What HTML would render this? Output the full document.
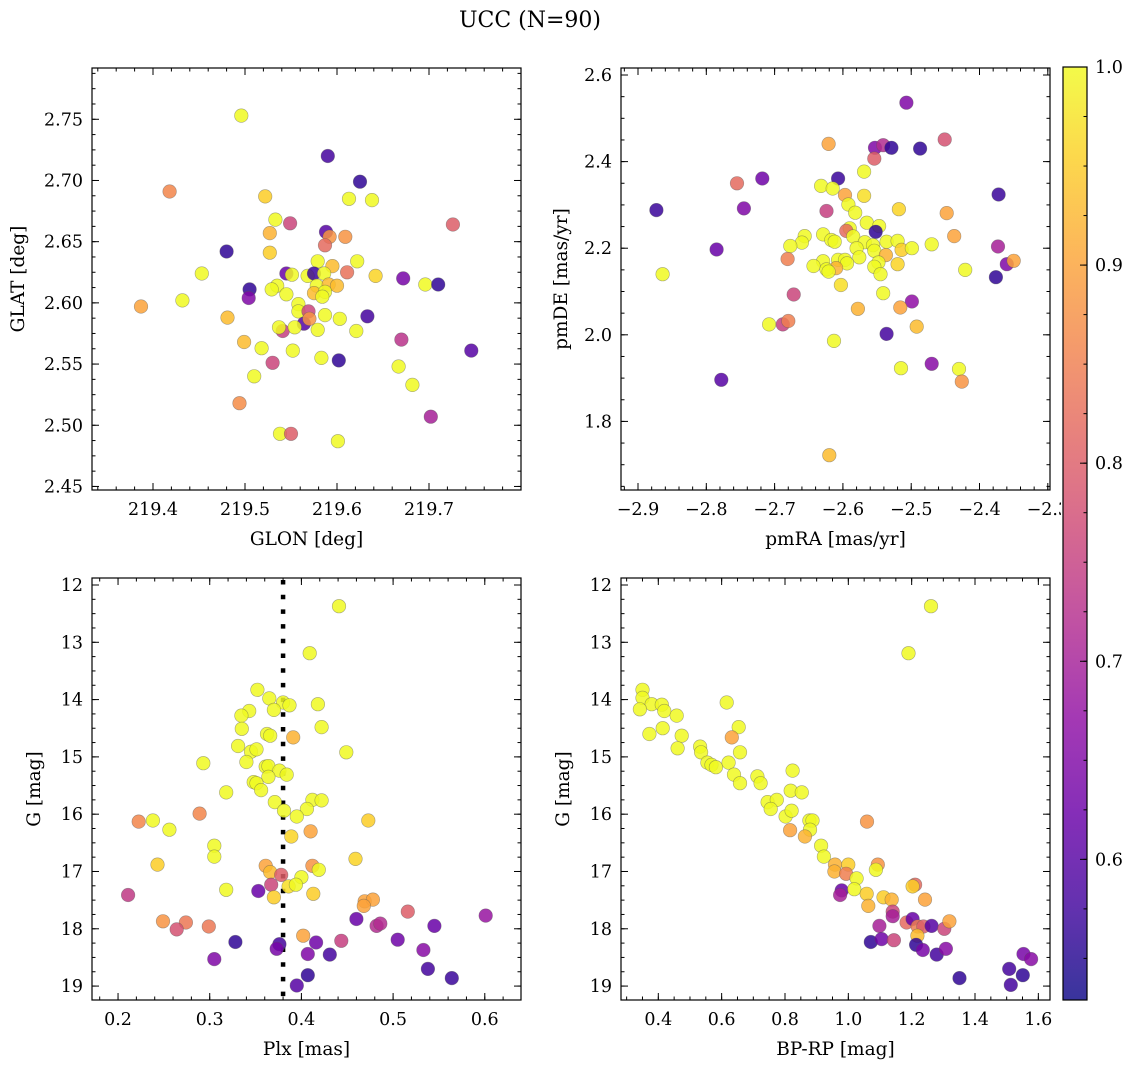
<!DOCTYPE html>
<html><head><meta charset="utf-8"><title>UCC (N=90)</title>
<style>
html,body{margin:0;padding:0;background:#fff;}
svg{display:block;font-family:"DejaVu Serif","Liberation Serif",serif;}
</style></head>
<body>
<svg id="fig" width="1136" height="1067" viewBox="0 0 1136 1067" xmlns="http://www.w3.org/2000/svg">
<text x="530" y="27" font-size="22" text-anchor="middle">UCC (N=90)</text>
</svg>
<script>
// ---- Panel 1: GLON vs GLAT ----
const p1Glon=[219.496,219.590,219.625,219.418,219.522,219.613,219.638,219.533,219.549,219.726,219.527,219.588,219.592,219.609,219.587,219.480,219.527,219.579,219.622,219.595,219.611,219.545,219.551,219.453,219.568,219.575,219.586,219.642,219.672,219.696,219.710,219.535,219.578,219.591,219.600,219.505,219.529,219.545,219.575,219.587,219.584,219.504,219.432,219.387,219.558,219.558,219.569,219.587,219.603,219.633,219.481,219.564,219.570,219.541,219.537,219.554,219.579,219.621,219.670,219.499,219.518,219.552,219.746,219.583,219.602,219.530,219.667,219.510,219.682,219.494,219.702,219.538,219.550,219.601];
const p1Glat=[2.753,2.720,2.699,2.691,2.687,2.685,2.684,2.668,2.665,2.664,2.657,2.658,2.654,2.654,2.647,2.642,2.641,2.634,2.634,2.630,2.625,2.624,2.623,2.624,2.622,2.624,2.624,2.622,2.620,2.615,2.615,2.614,2.614,2.615,2.614,2.611,2.611,2.607,2.608,2.609,2.605,2.604,2.602,2.597,2.599,2.593,2.593,2.590,2.587,2.589,2.588,2.583,2.587,2.577,2.580,2.580,2.578,2.577,2.570,2.568,2.563,2.561,2.561,2.555,2.553,2.551,2.548,2.540,2.533,2.518,2.507,2.493,2.493,2.487];
const p1Prob=[1,0.58,0.56,0.86,0.95,1,1,1,0.76,0.8,0.92,0.6,0.88,0.88,0.82,0.56,0.95,1,1,0.93,0.83,0.62,1,1,1,0.57,1,0.96,0.64,1,0.56,1,1,0.93,0.93,0.56,1,1,0.93,1,1,0.65,1,0.9,1,1,0.76,1,1,0.58,0.93,0.6,0.88,0.75,1,1,1,1,0.73,0.93,1,1,0.6,1,0.56,0.76,1,1,1,0.87,0.7,1,0.8,1];
// ---- Panel 2: pmRA vs pmDE ----
const p2Pmra=[-2.507,-2.621,-2.553,-2.541,-2.529,-2.487,-2.451,-2.554,-2.569,-2.607,-2.718,-2.755,-2.632,-2.615,-2.597,-2.569,-2.372,-2.873,-2.745,-2.592,-2.624,-2.582,-2.518,-2.448,-2.565,-2.547,-2.552,-2.590,-2.595,-2.585,-2.437,-2.629,-2.656,-2.617,-2.612,-2.660,-2.677,-2.568,-2.556,-2.536,-2.520,-2.470,-2.580,-2.554,-2.514,-2.499,-2.373,-2.537,-2.681,-2.576,-2.629,-2.607,-2.597,-2.594,-2.643,-2.548,-2.520,-2.610,-2.624,-2.554,-2.360,-2.350,-2.621,-2.545,-2.864,-2.421,-2.376,-2.603,-2.672,-2.541,-2.499,-2.578,-2.516,-2.708,-2.688,-2.680,-2.492,-2.536,-2.613,-2.515,-2.470,-2.430,-2.426,-2.778,-2.785,-2.620];
const p2Pmde=[2.536,2.441,2.432,2.438,2.432,2.430,2.451,2.407,2.377,2.361,2.361,2.350,2.344,2.338,2.323,2.321,2.324,2.288,2.292,2.301,2.286,2.282,2.290,2.281,2.259,2.251,2.238,2.246,2.240,2.227,2.228,2.232,2.228,2.219,2.215,2.213,2.205,2.214,2.207,2.215,2.217,2.209,2.200,2.194,2.196,2.200,2.204,2.184,2.175,2.179,2.170,2.173,2.173,2.165,2.159,2.167,2.163,2.154,2.151,2.157,2.163,2.171,2.146,2.140,2.140,2.150,2.133,2.115,2.093,2.096,2.077,2.060,2.063,2.024,2.024,2.032,2.019,2.002,1.986,1.923,1.933,1.921,1.892,1.896,2.197,1.722];
const p2Prob=[0.65,0.9,0.65,0.72,0.56,0.56,0.78,0.8,1,0.57,0.63,0.82,1,1,0.9,0.97,0.57,0.57,0.65,1,0.75,1,0.96,0.9,1,1,0.56,1,0.82,1,0.9,1,1,1,1,1,1,1,1,1,1,1,1,1,0.95,1,0.7,0.92,0.85,1,1,1,1,1,1,1,0.96,0.92,1,1,0.65,0.9,1,1,1,1,0.56,0.97,0.76,1,0.67,0.92,0.9,1,0.75,0.85,0.93,0.58,1,1,0.66,1,0.88,0.6,0.62,0.93];
// ---- Panel 3: Plx vs G ----
const p3Plx=[0.441,0.409,0.352,0.365,0.380,0.387,0.370,0.418,0.343,0.3345,0.335,0.422,0.3625,0.366,0.391,0.331,0.345,0.351,0.449,0.293,0.340,0.361,0.364,0.376,0.384,0.364,0.348,0.351,0.356,0.318,0.371,0.412,0.422,0.381,0.406,0.395,0.2225,0.238,0.289,0.473,0.256,0.389,0.410,0.305,0.305,0.243,0.459,0.361,0.366,0.412,0.419,0.400,0.378,0.367,0.386,0.394,0.353,0.318,0.211,0.370,0.413,0.469,0.478,0.468,0.249,0.274,0.264,0.299,0.516,0.601,0.460,0.482,0.486,0.545,0.402,0.328,0.376,0.373,0.416,0.4435,0.505,0.533,0.407,0.431,0.305,0.538,0.407,0.564,0.395];
const p3G=[12.37,13.19,13.83,13.98,14.05,14.10,14.18,14.08,14.20,14.28,14.51,14.48,14.60,14.63,14.66,14.81,14.91,14.87,14.92,15.11,15.09,15.17,15.16,15.24,15.31,15.35,15.44,15.46,15.58,15.62,15.79,15.75,15.76,15.94,15.91,16.04,16.13,16.11,15.99,16.11,16.27,16.39,16.30,16.55,16.74,16.88,16.78,16.90,17.01,16.90,16.97,17.10,17.06,17.23,17.26,17.23,17.34,17.32,17.41,17.45,17.39,17.52,17.49,17.60,17.87,17.89,18.01,17.96,17.70,17.77,17.83,17.95,17.91,17.95,18.12,18.23,18.27,18.35,18.24,18.21,18.19,18.37,18.44,18.45,18.53,18.70,18.81,18.86,18.99];
const p3Prob=[1,1,1,1,1,1,1,1,1,1,1,1,1,1,0.92,1,1,1,1,1,1,1,1,1,1,1,1,1,1,1,1,1,1,1,1,1,0.86,1,0.86,0.95,1,0.96,0.9,1,1,0.95,0.96,0.9,0.93,0.88,1,1,0.8,0.76,0.97,1,0.62,1,0.74,0.95,0.95,0.9,0.9,0.9,0.88,0.84,0.78,0.84,0.8,0.68,0.62,0.72,0.72,0.62,0.9,0.56,0.58,0.64,0.63,0.75,0.63,0.66,0.65,0.58,0.65,0.58,0.56,0.57,0.6];
// ---- Panel 4: BP-RP vs G ----
const p4Bprp=[1.261,1.190,0.350,0.350,0.379,0.411,0.419,0.342,0.458,0.616,0.372,0.414,0.474,0.654,0.632,0.658,0.461,0.532,0.535,0.555,0.568,0.582,0.622,0.639,0.658,0.713,0.723,0.824,0.818,0.853,0.745,0.774,0.755,0.802,0.821,0.816,0.877,0.887,0.879,0.863,1.059,0.914,0.923,0.958,0.956,1.000,0.993,1.026,1.093,1.087,1.211,1.203,0.979,0.974,1.019,1.058,1.063,1.111,1.137,1.242,1.140,1.140,1.184,1.203,1.219,1.237,1.263,1.303,1.319,1.098,1.218,1.071,1.105,1.144,1.214,1.235,1.279,1.308,1.351,1.508,1.551,1.513,1.553,1.577];
const p4G=[12.37,13.19,13.83,13.97,14.08,14.09,14.20,14.17,14.28,14.05,14.60,14.50,14.63,14.48,14.66,14.92,14.85,14.82,14.92,15.10,15.14,15.18,15.10,15.31,15.46,15.34,15.46,15.24,15.59,15.62,15.79,15.75,15.91,16.04,15.94,16.28,16.11,16.11,16.27,16.39,16.13,16.55,16.74,16.88,17.00,16.88,17.04,17.12,16.88,16.97,17.23,17.26,17.33,17.41,17.31,17.39,17.60,17.45,17.49,17.49,17.70,17.78,17.89,17.83,17.96,17.96,17.95,18.00,17.87,17.95,18.12,18.23,18.18,18.20,18.28,18.37,18.45,18.35,18.86,18.70,18.81,18.98,18.44,18.53];
const p4Prob=[1,1,1,1,1,1,1,1,1,1,1,1,1,1,0.9,1,1,1,1,1,1,1,1,1,1,1,1,1,1,1,1,1,1,1,1,0.9,1,1,1,0.92,0.88,1,1,0.92,0.92,0.95,0.85,1,0.88,1,0.82,0.95,0.62,0.7,1,0.95,0.92,0.95,0.92,0.9,0.76,0.7,0.82,0.62,0.85,0.8,0.6,0.76,0.9,0.7,0.93,0.56,0.63,0.76,0.56,0.64,0.58,0.66,0.56,0.58,0.56,0.58,0.64,0.66];
// ---- Colorbar ticks ----
const cbarTicks=[0.6,0.7,0.8,0.9,1.0];

const SVGNS="http://www.w3.org/2000/svg";
const fig=document.getElementById('fig');
const CMIN=0.529, CMAX=1.0;
const plasmaStops=[[13,8,135],[65,4,157],[106,0,168],[143,13,164],[177,42,144],[204,71,120],[225,100,98],[242,132,75],[252,166,54],[252,206,37],[240,249,33]];
function plasma(t){t=Math.max(0,Math.min(1,t));const s=t*10;const i=Math.min(9,Math.floor(s));const f=s-i;const a=plasmaStops[i],b=plasmaStops[i+1];
return 'rgb('+[0,1,2].map(k=>Math.round(a[k]+(b[k]-a[k])*f)).join(',')+')';}
function mk(tag,attrs,parent){const e=document.createElementNS(SVGNS,tag);for(const k in attrs)e.setAttribute(k,attrs[k]);(parent||fig).appendChild(e);return e;}
function fmt(v,d){const s=v.toFixed(d);return s.replace('-','\u2212');}

function panel(cfg){
  const g=mk('g',{});
  
  
  const L=cfg.box[0],T=cfg.box[1],R=cfg.box[2],B=cfg.box[3];
  const sx=v=>L+(v-cfg.xlim[0])/(cfg.xlim[1]-cfg.xlim[0])*(R-L);
  const sy=cfg.yinv?(v=>T+(v-cfg.ylim[0])/(cfg.ylim[1]-cfg.ylim[0])*(B-T)):(v=>B-(v-cfg.ylim[0])/(cfg.ylim[1]-cfg.ylim[0])*(B-T));
  const clipId='clip'+cfg.name;
  const cp=mk('clipPath',{id:clipId},g);mk('rect',{x:L,y:T,width:R-L,height:B-T},cp);
  const pg=mk('g',{'clip-path':'url(#'+clipId+')'},g);
  if(cfg.vline!==undefined){
    const ln=mk('line',{x1:sx(cfg.vline),x2:sx(cfg.vline),y1:T+2,y2:B,stroke:'#000','stroke-width':4.5,'stroke-dasharray':'4.5 10.2'},pg);
    
    
  }
  for(let i=0;i<cfg.xs.length;i++){
    const c=mk('circle',{cx:sx(cfg.xs[i]).toFixed(1),cy:sy(cfg.ys[i]).toFixed(1),r:6.8,fill:plasma((cfg.ps[i]-CMIN)/(CMAX-CMIN)),'fill-opacity':0.85,stroke:'#555','stroke-opacity':0.5,'stroke-width':0.6},pg);
    
    
  }
  const tg=mk('g',{stroke:'#000','stroke-width':1},g);
  const eps=1e-9;
  function ticksAlong(lo,hi,step){const out=[];const s=Math.ceil((lo-eps)/step);for(let k=s;k*step<=hi+eps;k++)out.push(+(k*step).toFixed(6));return out;}
  ticksAlong(cfg.xlim[0],cfg.xlim[1],cfg.xminor).forEach(v=>{const x=sx(v);mk('line',{x1:x,x2:x,y1:B,y2:B-3.5},tg);mk('line',{x1:x,x2:x,y1:T,y2:T+3.5},tg);});
  ticksAlong(Math.min(...cfg.ylim),Math.max(...cfg.ylim),cfg.yminor).forEach(v=>{const y=sy(v);mk('line',{x1:L,x2:L+3.5,y1:y,y2:y},tg);mk('line',{x1:R,x2:R-3.5,y1:y,y2:y},tg);});
  cfg.xticks.forEach(v=>{const x=sx(v);mk('line',{x1:x,x2:x,y1:B,y2:B-7},tg);mk('line',{x1:x,x2:x,y1:T,y2:T+7},tg);
    const t=mk('text',{x:x,y:B+25,'font-size':17.5,'text-anchor':'middle'},g);t.textContent=fmt(v,cfg.xdec);
    });
  cfg.yticks.forEach(v=>{const y=sy(v);mk('line',{x1:L,x2:L+7,y1:y,y2:y},tg);mk('line',{x1:R,x2:R-7,y1:y,y2:y},tg);
    const t=mk('text',{x:L-9,y:y+6,'font-size':17.5,'text-anchor':'end'},g);t.textContent=fmt(v,cfg.ydec);
    });
  const fr=mk('rect',{x:L,y:T,width:R-L,height:B-T,fill:'none',stroke:'#000','stroke-width':1.2},g);
  
  const xl=mk('text',{x:(L+R)/2,y:B+55,'font-size':18.5,'text-anchor':'middle'},g);xl.textContent=cfg.xlabel;
  
  const yx=cfg.ylabx, yy=(T+B)/2;
  const yl=mk('text',{x:yx,y:yy,'font-size':18.5,'text-anchor':'middle',transform:'rotate(-90 '+yx+' '+yy+')'},g);yl.textContent=cfg.ylabel;
  
}

panel({name:'panel-glon-glat',box:[92,68,521,490],xlim:[219.3337,219.8],ylim:[2.4471,2.7919],xs:p1Glon,ys:p1Glat,ps:p1Prob,
  xticks:[219.4,219.5,219.6,219.7],xminor:0.02,xdec:1,yticks:[2.45,2.5,2.55,2.6,2.65,2.7,2.75],yminor:0.0125,ydec:2,xlabel:'GLON [deg]',ylabel:'GLAT [deg]',ylabx:24});
panel({name:'panel-pmra-pmde',box:[621,68,1050,490],xlim:[-2.9249,-2.2968],ylim:[1.6416,2.6162],xs:p2Pmra,ys:p2Pmde,ps:p2Prob,
  xticks:[-2.9,-2.8,-2.7,-2.6,-2.5,-2.4,-2.3],xminor:0.02,xdec:1,yticks:[1.8,2.0,2.2,2.4,2.6],yminor:0.05,ydec:1,xlabel:'pmRA [mas/yr]',ylabel:'pmDE [mas/yr]',ylabx:567});
panel({name:'panel-plx-g',box:[92,578,521,1000],xlim:[0.1716,0.6395],ylim:[11.878,19.243],yinv:true,xs:p3Plx,ys:p3G,ps:p3Prob,vline:0.38,
  xticks:[0.2,0.3,0.4,0.5,0.6],xminor:0.02,xdec:1,yticks:[12,13,14,15,16,17,18,19],yminor:0.25,ydec:0,xlabel:'Plx [mas]',ylabel:'G [mag]',ylabx:40});
panel({name:'panel-bprp-g',box:[621,578,1050,1000],xlim:[0.2822,1.6368],ylim:[11.878,19.243],yinv:true,xs:p4Bprp,ys:p4G,ps:p4Prob,
  xticks:[0.4,0.6,0.8,1.0,1.2,1.4,1.6],xminor:0.05,xdec:1,yticks:[12,13,14,15,16,17,18,19],yminor:0.25,ydec:0,xlabel:'BP-RP [mag]',ylabel:'G [mag]',ylabx:569});

(function(){
  const L=1063,T=67,R=1087,B=1000;
  const cg=mk('g',{});
  
  
  mk('rect',{x:L-2,y:T,width:R-L+4,height:B-T,fill:'#fff'},cg);
  const defs=mk('defs',{},cg);
  const lg=mk('linearGradient',{id:'cbgrad',x1:0,y1:1,x2:0,y2:0},defs);
  for(let i=0;i<=20;i++){const t=i/20;mk('stop',{offset:t,'stop-color':plasma(t)},lg);}
  mk('rect',{x:L,y:T,width:R-L,height:B-T,fill:'url(#cbgrad)','fill-opacity':0.82},cg);
  const sy=v=>B-(v-CMIN)/(CMAX-CMIN)*(B-T);
  for(let v=0.55;v<=1.0001;v+=0.025){const y=sy(v);mk('line',{x1:R,x2:R-3.5,y1:y,y2:y,stroke:'#000'},cg);}
  cbarTicks.forEach(v=>{const y=sy(v);mk('line',{x1:R,x2:R-7,y1:y,y2:y,stroke:'#000'},cg);
    const t=mk('text',{x:R+8,y:y+6,'font-size':17.5},cg);t.textContent=v.toFixed(1);
    });
  mk('rect',{x:L,y:T,width:R-L,height:B-T,fill:'none',stroke:'#000','stroke-width':1.2},cg);
})();
</script>
</body></html>
